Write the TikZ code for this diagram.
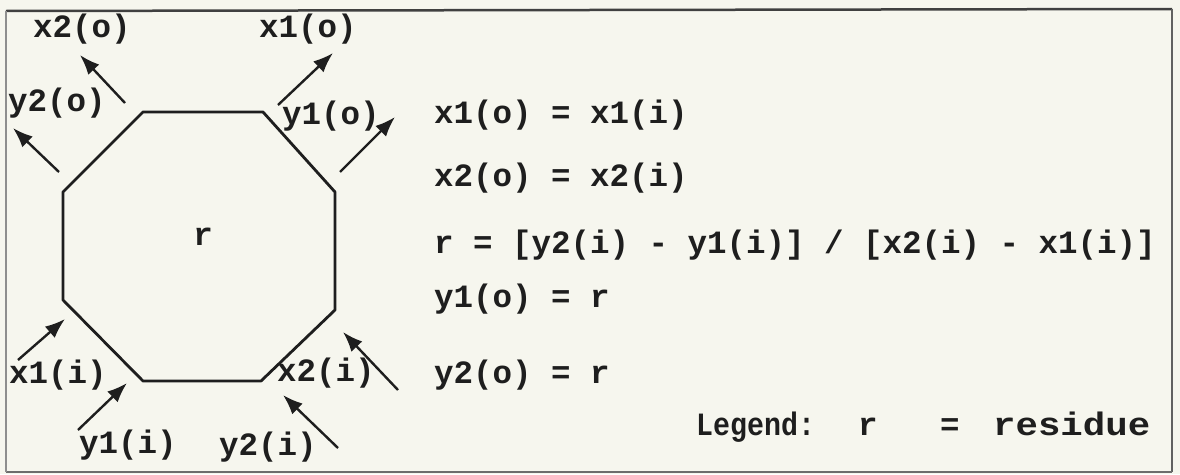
\documentclass[tikz,border=0pt]{standalone}
\usepackage{fontspec}
\setmonofont{Liberation Mono}
\usetikzlibrary{arrows.meta}
\definecolor{paper}{HTML}{F6F6EE}
\definecolor{ink}{HTML}{1E1E1E}
\begin{document}
\begin{tikzpicture}[x=1pt,y=-1pt,
  lbl/.style={font=\ttfamily\bfseries\fontsize{32.5}{36}\selectfont, text=ink, inner sep=0pt},
  eq/.style={lbl, anchor=base west},
  plbl/.style={lbl, anchor=mid},
  port/.style={draw=ink, line width=2.4pt, -{Latex[length=20pt,width=15pt]}},
  octo/.style={draw=ink, line width=2.8pt, line join=round},
  framebold/.style={draw=ink!85, line width=2.5pt},
  framethin/.style={draw=ink!50, line width=1.2pt}]
\fill[paper] (0,0) rectangle (1180,474);
\useasboundingbox (0,0) rectangle (1180,474);
% frame
\coordinate (ftl) at (6,11);
\coordinate (ftr) at (1172,9);
\coordinate (fbr) at (1172,472);
\coordinate (fbl) at (6,472);
\draw[framebold] (ftl) -- (ftr);
\draw[framethin, draw=ink!70, line width=1.6pt] (ftr) -- (fbr);
\draw[framethin, draw=ink!65, line width=2pt] (fbr) -- (fbl);
\draw[framethin] (fbl) -- (ftl);
% octagon
\coordinate (o1) at (143,112);
\coordinate (o2) at (263,112);
\coordinate (o3) at (335,192);
\coordinate (o4) at (335,310);
\coordinate (o5) at (261,381);
\coordinate (o6) at (143,381);
\coordinate (o7) at (63,300);
\coordinate (o8) at (63,192);
\draw[octo] (o1) -- (o2) -- (o3) -- (o4) -- (o5) -- (o6) -- (o7) -- (o8) -- cycle;
\node[plbl] (rc) at (203,243) {r};
% arrow end points
\coordinate (a1s) at (125,103); \coordinate (a1e) at (80,55);
\coordinate (a2s) at (278,105); \coordinate (a2e) at (333,53);
\coordinate (a3s) at (59,172);  \coordinate (a3e) at (13,128);
\coordinate (a4s) at (340,172); \coordinate (a4e) at (395,117);
\coordinate (a5s) at (18,360);  \coordinate (a5e) at (65,319);
\coordinate (a6s) at (78,430);  \coordinate (a6e) at (127,383);
\coordinate (a7s) at (398,390); \coordinate (a7e) at (343,332);
\coordinate (a8s) at (338,448); \coordinate (a8e) at (283,395);
\draw[port] (a1s) -- (a1e);
\draw[port] (a2s) -- (a2e);
\draw[port] (a3s) -- (a3e);
\draw[port] (a4s) -- (a4e);
\draw[port] (a5s) -- (a5e);
\draw[port] (a6s) -- (a6e);
\draw[port] (a7s) -- (a7e);
\draw[port] (a8s) -- (a8e);
% port labels
\node[plbl] (lx2o) at (82,35) {x2(o)};
\node[plbl] (lx1o) at (308,35) {x1(o)};
\node[plbl] (ly2o) at (57,109) {y2(o)};
\node[plbl] (ly1o) at (331,122) {y1(o)};
\node[plbl] (lx1i) at (58,381) {x1(i)};
\node[plbl] (ly1i) at (128,451) {y1(i)};
\node[plbl] (lx2i) at (326,379) {x2(i)};
\node[plbl] (ly2i) at (268,453) {y2(i)};
% equations
\node[eq] (e1) at (434,123) {x1(o) = x1(i)};
\node[eq] (e2) at (434,186) {x2(o) = x2(i)};
\node[eq] (e3) at (434,253) {r = [y2(i) - y1(i)] / [x2(i) - x1(i)]};
\node[eq] (e4) at (434,307) {y1(o) = r};
\node[eq] (e5) at (434,383) {y2(o) = r};
% legend
\node[eq] (leg) at (696,435) {\scalebox{0.87}[1]{Legend:}};
\node[eq] (legr) at (858,435) {r};
\node[eq] (legeq) at (940,435) {=};
\node[eq] (legres) at (993,435) {\scalebox{1.15}[1]{residue}};
\end{tikzpicture}
\end{document}
